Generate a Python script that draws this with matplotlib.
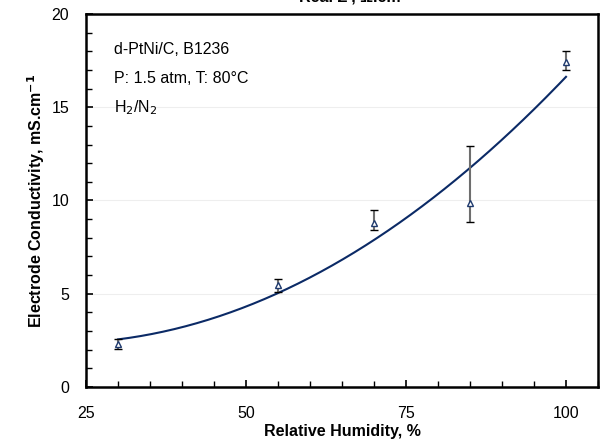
import numpy as np
import matplotlib.pyplot as plt
from matplotlib.ticker import MultipleLocator

plt.rcParams['font.family'] = ['Liberation Sans', 'DejaVu Sans']

# data
rh = [30, 55, 70, 85, 100]
cond = [2.3, 5.45, 8.8, 9.85, 17.45]
err_lo = [0.25, 0.35, 0.4, 1.0, 0.45]
err_hi = [0.25, 0.35, 0.7, 3.05, 0.55]
notes = ['d-PtNi/C, B1236', 'P: 1.5 atm, T: 80\u00b0C', 'H$_2$/N$_2$']

navy = '#1f3a6e'

fig = plt.figure(figsize=(6.01, 4.44), dpi=100)
ax = fig.add_axes([86 / 601, 1 - 387 / 444, (598 - 86) / 601, (387 - 14) / 444])

# quadratic trendline through the points
coef = np.polyfit(rh, cond, 2)
xs = np.linspace(min(rh), max(rh), 200)
ax.plot(xs, np.polyval(coef, xs), color='#0b2a66', lw=1.5, zorder=3)

eb = ax.errorbar(rh, cond, yerr=[err_lo, err_hi], fmt='^', mfc='white', mec=navy,
                 mew=1.0, ms=5, ecolor='#6e6e6e', elinewidth=1.5, capsize=3,
                 capthick=1.2, zorder=4)
for cl in eb[1]:
    cl.set_markeredgecolor('black')
    cl.set_markerfacecolor('black')

ax.set_xlim(25, 105)
ax.set_ylim(0, 20)
ax.xaxis.set_major_locator(MultipleLocator(25))
ax.xaxis.set_minor_locator(MultipleLocator(5))
ax.yaxis.set_major_locator(MultipleLocator(5))
ax.yaxis.set_minor_locator(MultipleLocator(1))
ax.tick_params(which='both', direction='in', top=False, right=False, labelsize=11.5)
ax.tick_params(which='major', length=5, width=1.2)
ax.tick_params(axis='x', which='major', pad=14)
ax.tick_params(axis='y', which='major', pad=12)
ax.tick_params(which='minor', length=4, width=1.0)
ax.set_xticks([25, 50, 75, 100])
ax.yaxis.grid(True, which='major', color='#eeeeee', lw=0.8)
ax.set_axisbelow(True)
for sp in ax.spines.values():
    sp.set_linewidth(1.8)

ax.set_xlabel('Relative Humidity, %', fontsize=11.5, fontweight='bold', labelpad=2)
ax.set_ylabel('Electrode Conductivity, mS.cm$^{\\mathbf{-1}}$', fontsize=11.5,
              fontweight='bold', labelpad=3)

for i, t in enumerate(notes):
    ax.text(0.055, 0.905 - i * 0.078, t, transform=ax.transAxes, fontsize=11.5,
            va='center', ha='left')

# title is clipped at the top edge in the original
fig.text(350 / 601, 1 + 3 / 444, "Real Z', \u03a9.cm", ha='center', va='center',
         fontsize=11.5, fontweight='bold')

fig.savefig('out.png', dpi=100)
